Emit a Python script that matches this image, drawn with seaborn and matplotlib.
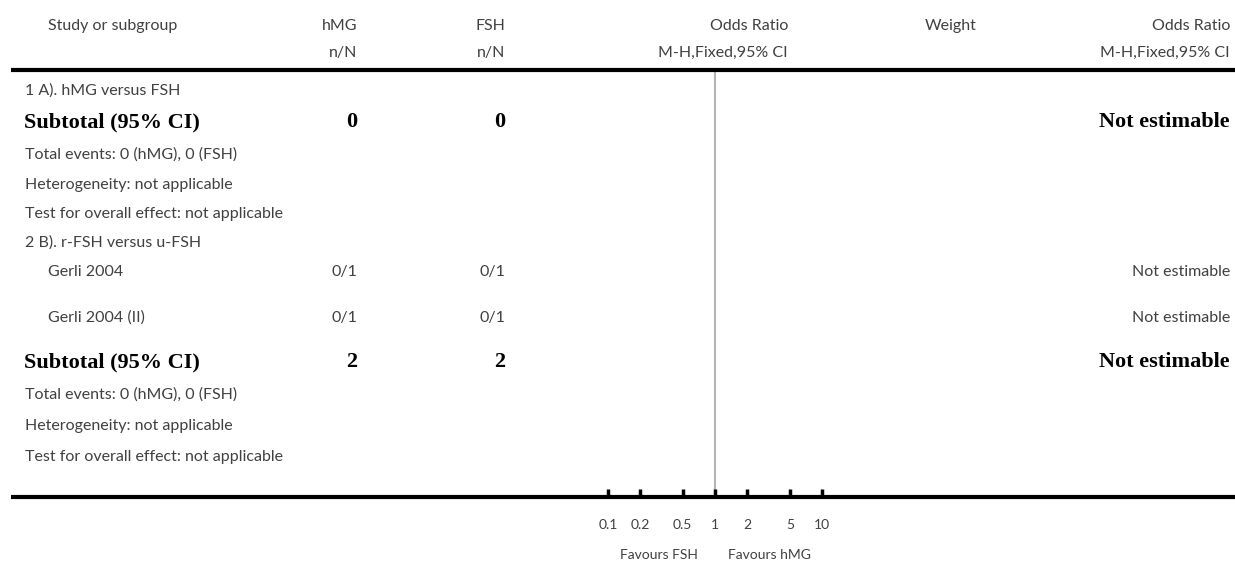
import matplotlib
matplotlib.use("Agg")
import matplotlib.pyplot as plt
import seaborn as sns
import numpy as np

# ---------------- data ----------------
group_labels = ["1 A). hMG versus FSH", "2 B). r-FSH versus u-FSH"]
studies = ["Gerli 2004", "Gerli 2004 (II)"]
study_group = [1, 1]
hmg_events = [0, 0]
hmg_total = [1, 1]
fsh_events = [0, 0]
fsh_total = [1, 1]
subtotal_hmg = [0, 2]
subtotal_fsh = [0, 2]
total_events_hmg = [0, 0]
total_events_fsh = [0, 0]
or_ticks = [0.1, 0.2, 0.5, 1, 2, 5, 10]
or_tick_labels = ["0.1", "0.2", "0.5", "1", "2", "5", "10"]
favours_left = "Favours FSH"
favours_right = "Favours hMG"

# ---------------- style ----------------
sns.set_theme(style="white")
plt.rcParams["font.family"] = ["Lato", "DejaVu Sans"]

W, H = 1235, 563
fig = plt.figure(figsize=(W / 100, H / 100), dpi=100)

GREY = "#404040"
REG = dict(fontsize=11.5, color=GREY, va="center")
BOLD = dict(fontsize=16, color="black", va="center", fontweight="bold",
            family=["Liberation Serif", "DejaVu Serif"])

# forest axis (log scale), full-width bottom rule
x0, x1 = 11, 1235
ytop, ybot = 70, 497
px_per_dec = 107.0
one_x = 715
fax = fig.add_axes([x0 / W, 1 - ybot / H, (x1 - x0) / W, (ybot - ytop) / H])
fax.set_xscale("log")
fax.set_xlim(10 ** (-(one_x - x0) / px_per_dec), 10 ** ((x1 - one_x) / px_per_dec))
fax.set_ylim(0, 1)
fax.set_facecolor("none")
for s in ["left", "right", "top"]:
    fax.spines[s].set_visible(False)
fax.spines["bottom"].set_linewidth(3)
fax.spines["bottom"].set_color("black")
fax.spines["bottom"].set_capstyle("butt")
fax.set_yticks([])
fax.set_xticks(or_ticks)
fax.set_xticklabels(or_tick_labels)
fax.minorticks_off()
fax.tick_params(axis="x", direction="in", length=6, width=2.5, color="black",
                pad=15.5, labelsize=10, labelcolor=GREY, bottom=True)
fax.axvline(1, color="#b4b4b4", lw=1.5, zorder=0)
fax.grid(False)

# text overlay in pixel coordinates
ax = fig.add_axes([0, 0, 1, 1])
ax.set_xlim(0, W)
ax.set_ylim(H, 0)
ax.axis("off")
ax.set_facecolor("none")

col_hmg, col_fsh, col_or, col_w, col_or2 = 357, 505, 788, 951, 1230

# header
ax.text(48, 26, "Study or subgroup", ha="left", **REG)
ax.text(col_hmg, 26, "hMG", ha="right", **REG)
ax.text(col_fsh, 26, "FSH", ha="right", **REG)
ax.text(col_or, 26, "Odds Ratio", ha="right", **REG)
ax.text(col_w, 26, "Weight", ha="center", **REG)
ax.text(col_or2, 26, "Odds Ratio", ha="right", **REG)
ax.text(col_hmg, 53, "n/N", ha="right", **REG)
ax.text(col_fsh, 53, "n/N", ha="right", **REG)
ax.text(col_or, 53, "M-H,Fixed,95% CI", ha="right", **REG)
ax.text(col_or2, 53, "M-H,Fixed,95% CI", ha="right", **REG)
ax.plot([x0, x1], [69.5, 69.5], color="black", lw=3, solid_capstyle="butt")

# body rows
group_rows = [
    dict(head=91, studies=[], sub=122, foot=[155, 185, 214]),
    dict(head=243, studies=[272, 318], sub=362, foot=[395, 426, 457]),
]
for g, rows in enumerate(group_rows):
    ax.text(25, rows["head"], group_labels[g], ha="left", **REG)
    idx = [i for i, sg in enumerate(study_group) if sg == g]
    for i, y in zip(idx, rows["studies"]):
        ax.text(48, y, studies[i], ha="left", **REG)
        ax.text(col_hmg, y, f"{hmg_events[i]}/{hmg_total[i]}", ha="right", **REG)
        ax.text(col_fsh, y, f"{fsh_events[i]}/{fsh_total[i]}", ha="right", **REG)
        ax.text(col_or2, y, "Not estimable", ha="right", **REG)
    ys = rows["sub"]
    ax.text(24, ys, "Subtotal (95% CI)", ha="left", **BOLD)
    ax.text(col_hmg, ys, str(subtotal_hmg[g]), ha="right", **BOLD)
    ax.text(col_fsh, ys, str(subtotal_fsh[g]), ha="right", **BOLD)
    ax.text(col_or2, ys, "Not estimable", ha="right", **BOLD)
    f1, f2, f3 = rows["foot"]
    ax.text(25, f1, f"Total events: {total_events_hmg[g]} (hMG), {total_events_fsh[g]} (FSH)",
            ha="left", **REG)
    ax.text(25, f2, "Heterogeneity: not applicable", ha="left", **REG)
    ax.text(25, f3, "Test for overall effect: not applicable", ha="left", **REG)

ax.text(659, 555, favours_left, ha="center", fontsize=10, color=GREY, va="center")
ax.text(769, 555, favours_right, ha="center", fontsize=10, color=GREY, va="center")

fig.savefig("out.png", dpi=100, facecolor="white")
